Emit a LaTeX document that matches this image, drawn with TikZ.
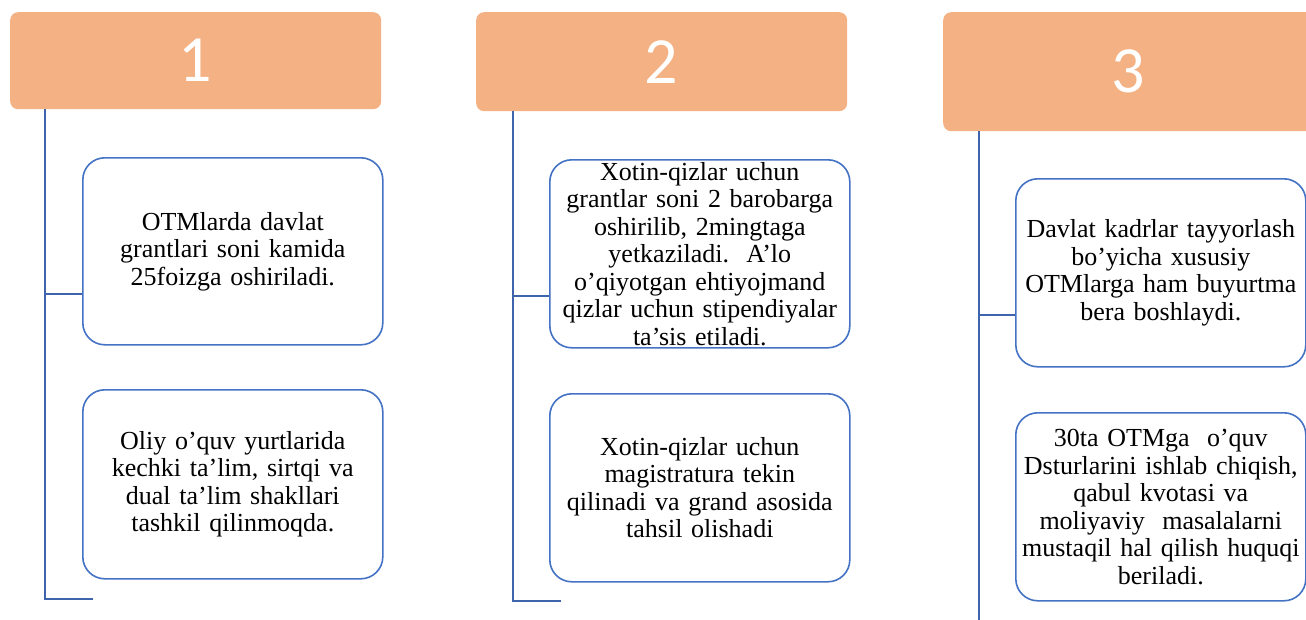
\documentclass[tikz,border=0pt]{standalone}
\usepackage{fontspec}
\setmainfont{Liberation Serif}
\setsansfont{Carlito}
\usetikzlibrary{positioning,calc}
\frenchspacing

\definecolor{headorange}{HTML}{F4B183}
\definecolor{itemblue}{HTML}{4472C4}
\definecolor{linkblue}{HTML}{3F64AE}

\begin{document}
\begin{tikzpicture}[x=1pt, y=-1pt,
  head/.style={fill=headorange, rounded corners=8pt, anchor=north west,
    minimum width=371pt, inner sep=0pt, text=white,
    font=\sffamily\fontsize{66}{66}\selectfont},
  item/.style={draw=itemblue, line width=1.6pt, fill=white, rounded corners=22pt,
    anchor=north west, minimum width=300pt, minimum height=188pt,
    text width=284pt, align=center, inner sep=0pt,
    font=\fontsize{26}{27.5}\selectfont},
  link/.style={draw=linkblue, line width=2pt}]
  \useasboundingbox (0,0) rectangle (1306,619);
  \clip (0,0) rectangle (1306,619);

  % headers
  \node [head, minimum height=97pt]  (h1) at (10,12)  {1};
  \node [head, minimum height=99pt]  (h2) at (476,12) {2};
  \node [head, minimum height=119pt, minimum width=420pt] (h3) at (943,12) {};
  \node [text=white, font=\sffamily\fontsize{66}{66}\selectfont] (n3) at (1128,71.5) {3};

  % items
  \node [item, minimum height=187pt] (a1) at (82,157)
    {OTMlarda davlat\\ grantlari soni kamida\\ 25foizga oshiriladi.};
  \node [item, minimum height=189pt] (a2) at (82,389)
    {Oliy o’quv yurtlarida\\ kechki ta’lim, sirtqi va\\ dual ta’lim shakllari\\ tashkil qilinmoqda.};
  \node [item] (b1) at (549,159)
    {Xotin-qizlar uchun\\ grantlar soni 2 barobarga\\ oshirilib, 2mingtaga\\ yetkaziladi. \ A’lo\\
     o’qiyotgan ehtiyojmand\\ qizlar uchun stipendiyalar\\ ta’sis etiladi.};
  \node [item] (b2) at (549,393)
    {Xotin-qizlar uchun\\ magistratura tekin\\ qilinadi va grand asosida\\ tahsil olishadi};
  \node [item, minimum width=290pt] (c1) at (1015,178)
    {Davlat kadrlar tayyorlash\\ bo’yicha xususiy\\ OTMlarga ham buyurtma\\ bera boshlaydi.};
  \node [item, minimum width=290pt] (c2) at (1015,412)
    {30ta OTMga \ o’quv\\ Dsturlarini ishlab chiqish,\\ qabul kvotasi va\\ moliyaviy \ masalalarni\\
     mustaqil hal qilish huquqi\\ beriladi.};

  % spine ends
  \coordinate (e1) at (45,599);
  \coordinate (e2) at (513,601);
  \coordinate (e3) at (979,640);
  \coordinate (t1) at (45,294);
  \coordinate (t2) at (513,296);
  \coordinate (t3) at (979,315);

  \draw [link] (h1.south -| e1) -- (e1) -- ++(48,0);
  \draw [link] (h2.south -| e2) -- (e2) -- ++(48,0);
  \draw [link] (h3.south -| e3) -- (e3);

  \draw [link] (t1) -- (t1 -| a1.west);
  \draw [link] (t2) -- (t2 -| b1.west);
  \draw [link] (t3) -- (t3 -| c1.west);
\end{tikzpicture}
\end{document}
